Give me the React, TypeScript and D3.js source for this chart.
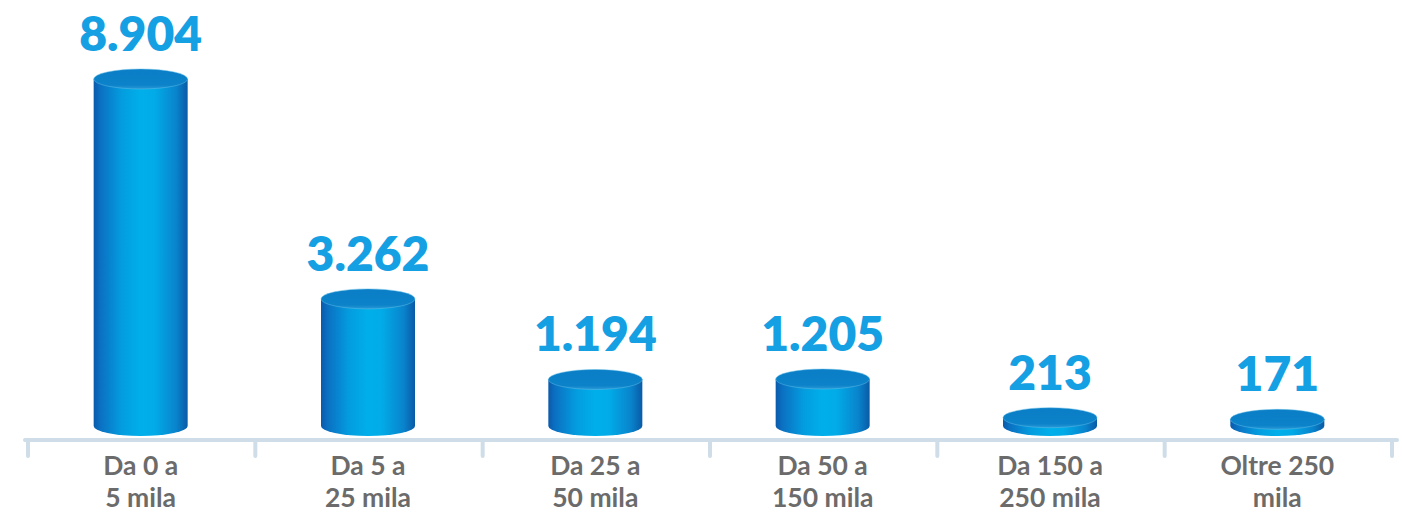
import React from "react";
import * as d3 from "d3";

const categories: string[][] = [
  ["Da 0 a", "5 mila"],
  ["Da 5 a", "25 mila"],
  ["Da 25 a", "50 mila"],
  ["Da 50 a", "150 mila"],
  ["Da 150 a", "250 mila"],
  ["Oltre 250", "mila"],
];
const values: number[] = [8904, 3262, 1194, 1205, 213, 171];

const W = 1402;
const H = 513;
const axisY = 440;
const baseCy = 426;
const rx = 47;
const ry = 10;

const itLocale = d3.formatLocale({
  decimal: ",",
  thousands: ".",
  grouping: [3],
  currency: ["€", ""],
});
const fmt = itLocale.format(",d");

export default function App() {
  const x = d3
    .scaleBand<number>()
    .domain(d3.range(categories.length))
    .range([28, 1392])
    .paddingInner(0)
    .paddingOuter(0);
  const h = d3.scaleLinear().domain([0, 8904]).range([0, 347]);
  const ticks = d3.range(categories.length + 1).map((i) =>
    i < categories.length ? (x(i) as number) : (x(categories.length - 1) as number) + x.bandwidth()
  );

  return (
    <svg
      width={W}
      height={H}
      style={{ position: "absolute", left: 0, top: 0, display: "block" }}
    >
      <defs>
        <linearGradient id="side" x1="0" x2="1" y1="0" y2="0">
          <stop offset="0" stopColor="#0a5aab" />
          <stop offset="0.07" stopColor="#0b70c2" />
          <stop offset="0.3" stopColor="#039ddf" />
          <stop offset="0.5" stopColor="#00afea" />
          <stop offset="0.65" stopColor="#01abe7" />
          <stop offset="0.88" stopColor="#0983cc" />
          <stop offset="1" stopColor="#0a5aa6" />
        </linearGradient>
        <linearGradient id="top" x1="0" x2="0" y1="0" y2="1">
          <stop offset="0" stopColor="#0a7ec6" />
          <stop offset="0.8" stopColor="#0b82c9" />
          <stop offset="1" stopColor="#2a98d6" />
        </linearGradient>
      </defs>

      {/* axis */}
      <line
        x1={25}
        x2={1397}
        y1={axisY}
        y2={axisY}
        stroke="#cfdde8"
        strokeWidth={4}
        strokeLinecap="round"
      />
      {ticks.map((t, i) => (
        <line
          key={"t" + i}
          x1={t}
          x2={t}
          y1={axisY}
          y2={456}
          stroke="#cfdde8"
          strokeWidth={4}
          strokeLinecap="round"
        />
      ))}

      {values.map((v, i) => {
        const cx = (x(i) as number) + x.bandwidth() / 2 - 1;
        const topCy = baseCy - h(v);
        const side = `M${cx - rx},${topCy} L${cx - rx},${baseCy} A${rx},${ry} 0 0 0 ${cx + rx},${baseCy} L${cx + rx},${topCy} Z`;
        return (
          <g key={"c" + i}>
            <path d={side} fill="url(#side)" />
            <ellipse
              cx={cx}
              cy={topCy}
              rx={rx}
              ry={ry}
              fill="url(#top)"
              stroke="#62bde8"
              strokeOpacity={0.6}
              strokeWidth={0.8}
            />
            <text
              x={cx}
              y={topCy - ry - 18}
              textAnchor="middle"
              fontFamily="Lato, 'Open Sans', sans-serif"
              fontWeight={800}
              fontSize={48}
              fill="#14a0e3"
            >
              {fmt(v)}
            </text>
          </g>
        );
      })}

      {categories.map((lines, i) => {
        const cx = (x(i) as number) + x.bandwidth() / 2 - 1;
        return (
          <text
            key={"l" + i}
            textAnchor="middle"
            fontFamily="Lato, 'Open Sans', sans-serif"
            fontWeight={700}
            fontSize={26.5}
            fill="#6b6b6b"
          >
            {lines.map((ln, j) => (
              <tspan key={j} x={cx} y={475 + j * 32}>
                {ln}
              </tspan>
            ))}
          </text>
        );
      })}
    </svg>
  );
}
